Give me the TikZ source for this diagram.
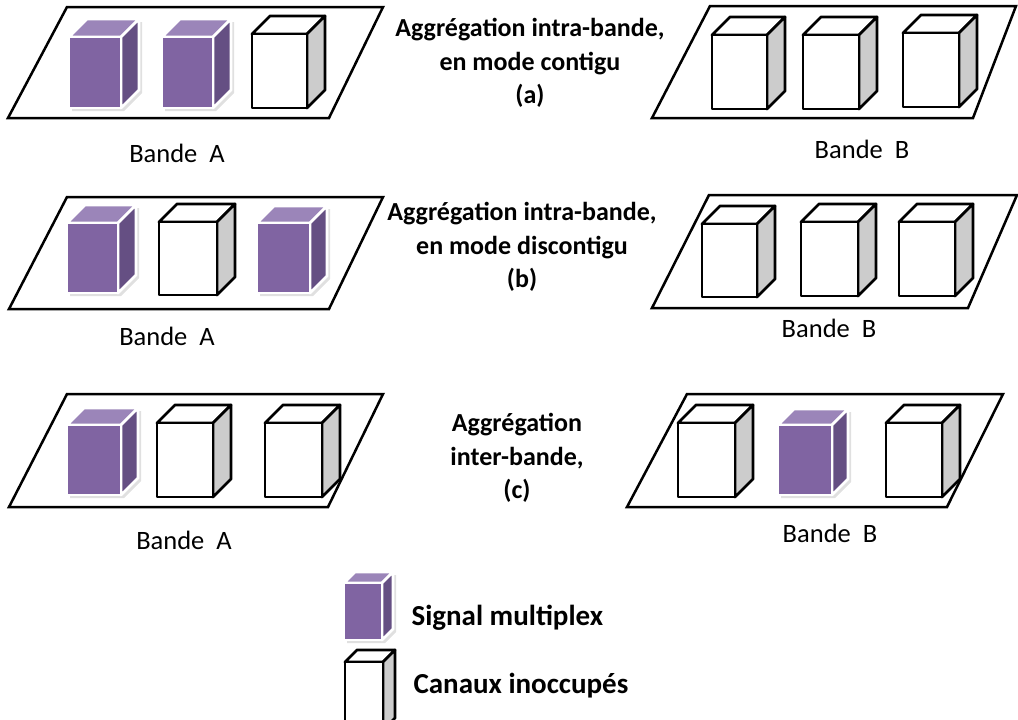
\documentclass[tikz,border=0pt]{standalone}
\usepackage{fontspec}
\setmainfont{Carlito}
\definecolor{CubeViolet}{HTML}{8064A2}
\definecolor{CubeVioletTop}{HTML}{9B85B9}
\definecolor{CubeVioletSide}{HTML}{654F83}
\definecolor{CubeGray}{HTML}{CCCCCC}

% one channel cube: #1 = plein/vide, front face (#2,#3)--(#4,#5), depth #6
\newcommand{\canal}[6]{%
  \path[#1 shadow] ({#2+3},{#5+3}) -- ({#2+3},{#3+3}) -- ({#2+#6+3},{#3-#6+3}) -- ({#4+#6+3},{#3-#6+3}) -- ({#4+#6+3},{#5-#6+3}) -- ({#4+3},{#5+3}) -- cycle;
  \path[#1 top] (#2,#3) -- ({#2+#6},{#3-#6}) -- ({#4+#6},{#3-#6}) -- (#4,#3) -- cycle;
  \path[#1 side] (#4,#3) -- ({#4+#6},{#3-#6}) -- ({#4+#6},{#5-#6}) -- (#4,#5) -- cycle;
  \path[#1 front] (#2,#3) rectangle (#4,#5);
}

\begin{document}
\begin{tikzpicture}[
    x=1pt, y=-1pt,
    plan/.style={draw=black, line width=2.5pt, line join=miter},
    cube/.style={line width=2.8pt, line join=round},
    plein shadow/.style={fill=black!12},
    plein top/.style={cube, draw=white, fill=CubeVioletTop},
    plein side/.style={cube, draw=white, fill=CubeVioletSide},
    plein front/.style={cube, draw=white, fill=CubeViolet},
    vide shadow/.style={},
    vide top/.style={cube, draw=black, fill=white},
    vide side/.style={cube, draw=black, fill=CubeGray},
    vide front/.style={cube, draw=black, fill=white},
    titre/.style={font=\fontsize{26}{33.5}\selectfont\bfseries, align=center},
    bande/.style={font=\fontsize{26.5}{30}\selectfont},
    legende/.style={font=\fontsize{29}{34}\selectfont\bfseries, anchor=base west}
]
\useasboundingbox (0,0) rectangle (1018,720);
\clip (0,0) rectangle (1018,720);

% Bands (a)
\draw[plan] (67,7) -- (383,7) -- (329,118) -- (8,118) -- cycle;
\draw[plan] (710,6) -- (1016,6) -- (973,118) -- (652,118) -- cycle;
\canal{plein}{69}{37}{121}{108}{18}
\canal{plein}{162}{37}{213}{108}{18}
\canal{vide}{252}{34}{307}{108}{18}
\canal{vide}{712}{35}{767}{109}{18}
\canal{vide}{803}{35}{859}{109}{18}
\canal{vide}{903}{33}{959}{107}{18}

% Bands (b)
\draw[plan] (67,197) -- (383,197) -- (329,309) -- (9,309) -- cycle;
\draw[plan] (709,195) -- (1017,195) -- (968,308) -- (652,308) -- cycle;
\canal{plein}{67}{223}{118}{293}{18}
\canal{vide}{159}{222}{217}{295}{18}
\canal{plein}{257}{223}{310}{293}{17}
\canal{vide}{702}{224}{757}{297}{18}
\canal{vide}{801}{222}{858}{296}{18}
\canal{vide}{899}{222}{955}{296}{18}

% Bands (c)
\draw[plan] (67,394) -- (383,394) -- (328,507) -- (9,507) -- cycle;
\draw[plan] (687,394) -- (1003,394) -- (947,507) -- (627,507) -- cycle;
\canal{plein}{67}{425}{121}{495}{17}
\canal{vide}{157}{423}{213}{497}{18}
\canal{vide}{265}{423}{322}{497}{18}
\canal{vide}{678}{423}{735}{497}{18}
\canal{plein}{778}{425}{832}{495}{16}
\canal{vide}{886}{423}{942}{497}{18}

% Titles
\node[titre] (titreA) at (530,63) {Aggrégation intra-bande,\\en mode contigu\\(a)};
\node[titre] (titreB) at (522,247) {Aggrégation intra-bande,\\en mode discontigu\\(b)};
\node[titre] (titreC) at (517,458) {Aggrégation\\inter-bande,\\(c)};

% Band labels
\node[bande] (bandeAa) at (177,153) {Bande~~A};
\node[bande] (bandeBa) at (862,149) {Bande~~B};
\node[bande] (bandeAb) at (167,336) {Bande~~A};
\node[bande] (bandeBb) at (829,328) {Bande~~B};
\node[bande] (bandeAc) at (184,540) {Bande~~A};
\node[bande] (bandeBc) at (830,533) {Bande~~B};

% Legend
\canal{plein}{344}{583}{382}{640}{11}
\canal{vide}{345}{662}{383}{730}{12}
\node[legende] (legPlein) at (408,625) {Signal multiplex};
\node[legende] (legVide) at (410,693) {Canaux inoccupés};

\end{tikzpicture}
\end{document}
